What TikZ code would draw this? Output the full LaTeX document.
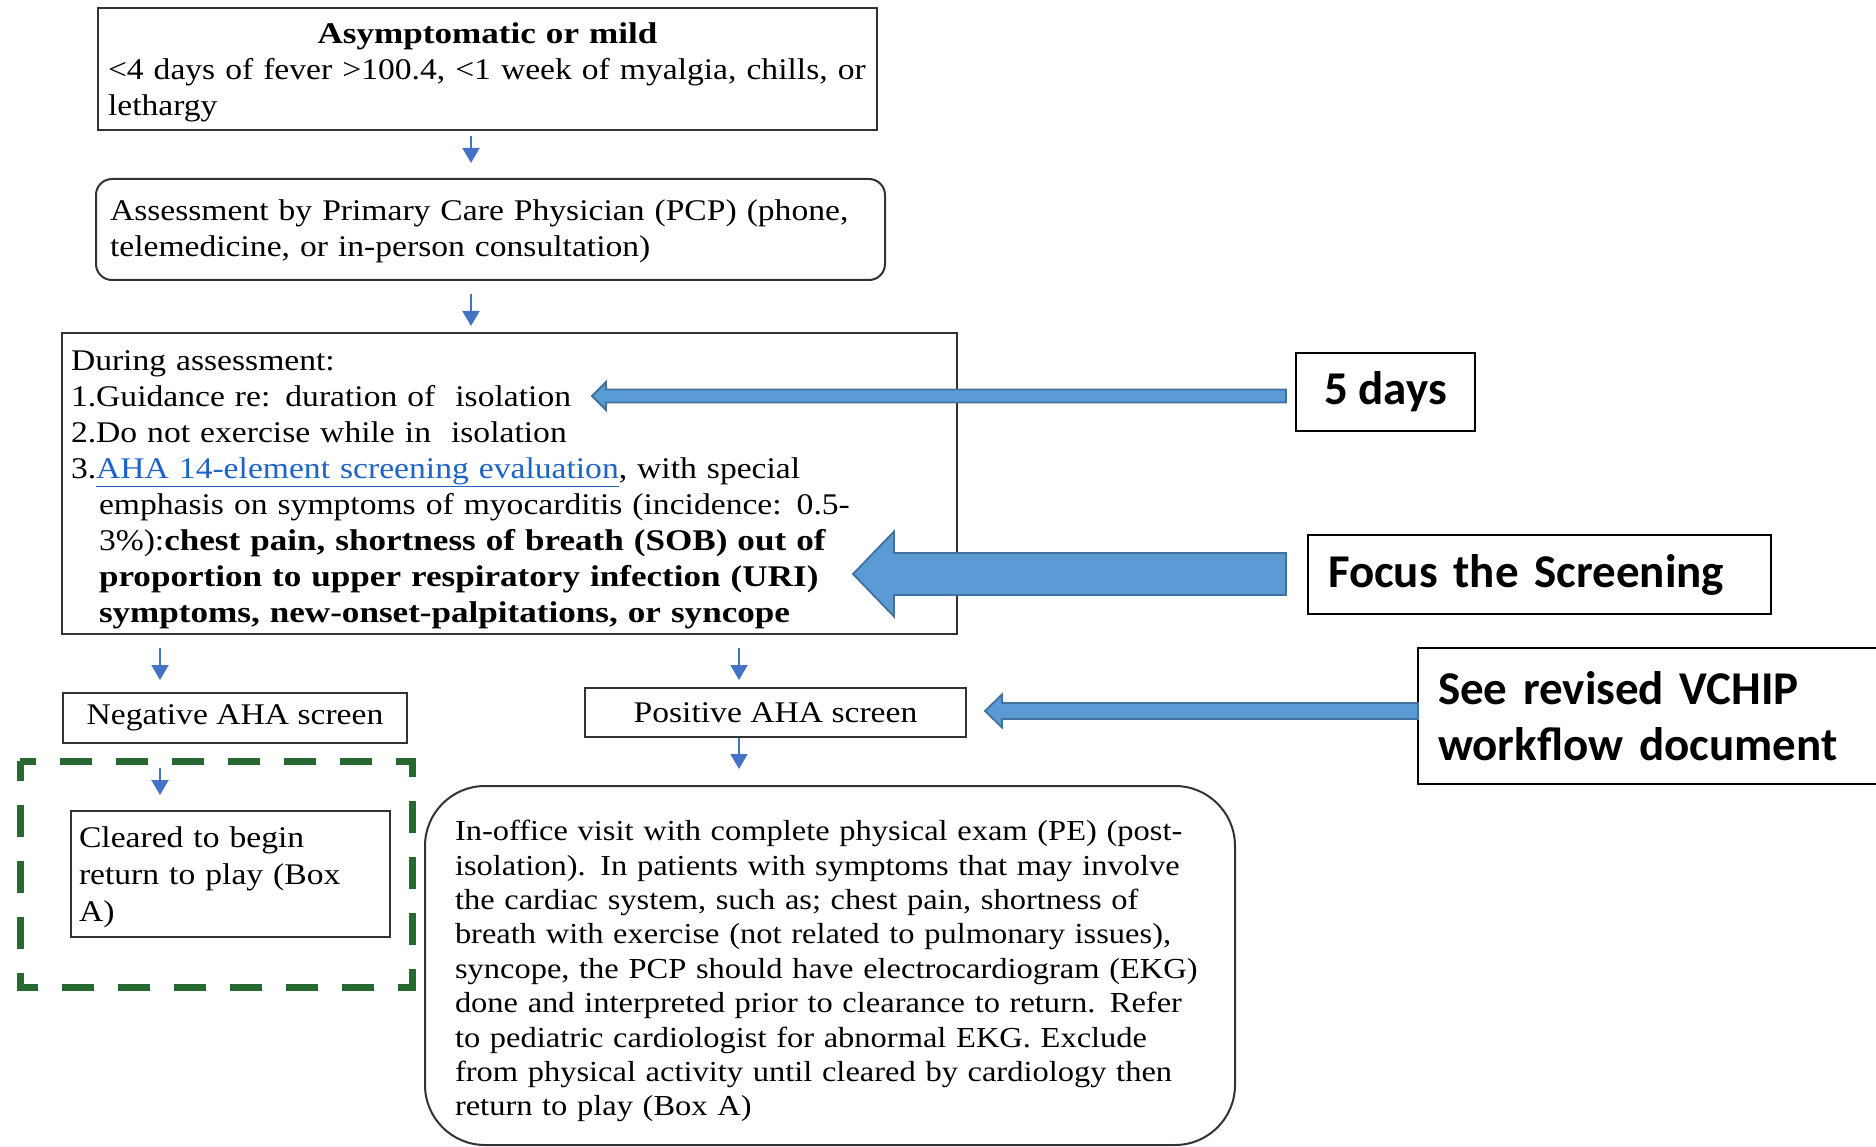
\documentclass[tikz,border=0pt]{standalone}
\usepackage{fontspec}
\setmainfont{Liberation Serif}[
  UprightFeatures={FakeStretch=1.12},
  BoldFeatures={FakeStretch=1.17}]
\newfontfamily\calloutfont{Carlito}
\usetikzlibrary{arrows.meta,calc}

\definecolor{flowblue}{RGB}{68,114,196}
\definecolor{arrowfill}{RGB}{91,155,213}
\definecolor{arrowedge}{RGB}{65,113,156}
\definecolor{linkblue}{RGB}{30,100,200}
\definecolor{clearedgreen}{RGB}{40,105,50}

% invisible strut that sets the height of a box's first line
\newcommand\firstline[1]{\rule{0pt}{#1}}

% block arrow: #1 tail coordinate, #2 tip coordinate,
% #3 half shaft thickness, #4 half head height, #5 head length
\newcommand\blockarrow[5]{%
  \draw[barrow] let \p1=(#1), \p2=(#2) in
    (\x2,\y2) -- (\x2+#5pt,\y2+#4pt) -- (\x2+#5pt,\y2+#3pt) -- (\x1,\y2+#3pt)
    -- (\x1,\y2-#3pt) -- (\x2+#5pt,\y2-#3pt) -- (\x2+#5pt,\y2-#4pt) -- cycle;}

\begin{document}
\begin{tikzpicture}[x=1pt,y=-1pt,
  every node/.style={inner sep=0pt,outer sep=0pt},
  flowbox/.style={draw=black!80,line width=2pt,rectangle,align=left,
    font=\fontsize{30}{36}\selectfont},
  roundbox/.style={flowbox,rounded corners=#1},
  callout/.style={draw=black,line width=1.6pt,rectangle,align=left,
    font=\calloutfont\bfseries\fontsize{47}{56}\selectfont},
  flow/.style={draw=flowblue,line width=2pt,-{Triangle[length=15pt,width=17pt]}},
  barrow/.style={fill=arrowfill,draw=arrowedge,line width=1.8pt,line join=miter},
  dashframe/.style={draw=clearedgreen,line width=7pt,dash pattern=on 32pt off 24pt}
]
\useasboundingbox (0,0) rectangle (1876,1147);
\fill[white] (0,0) rectangle (1876,1147);
\clip (0,0) rectangle (1876,1147);

% ---- main flow ----
\node[flowbox,minimum width=779,minimum height=122,text width=759] (mild) at (487.5,69)
  {\makebox[\linewidth]{\firstline{27.5pt}\bfseries Asymptomatic or mild}\\
   \mbox{<4 days of fever >100.4, <1 week of myalgia, chills, or}\\
   \mbox{lethargy}};

\node[roundbox=16pt,minimum width=789,minimum height=101,text width=761] (pcp) at (490.5,229.5)
  {\mbox{\firstline{25pt}Assessment by Primary Care Physician (PCP) (phone,}\\
   \mbox{telemedicine, or in-person consultation)}};

\node[flowbox,minimum width=895,minimum height=301,text width=877] (during) at (509.5,483.5)
  {\mbox{\firstline{32pt}During assessment:}\\
   \mbox{1.Guidance re: duration of\ \ isolation}\\
   \mbox{2.Do not exercise while in\ \ isolation}\\
   \mbox{3.\textcolor{linkblue}{\underline{AHA 14-element screening evaluation}}, with special}\\
   \mbox{\hspace*{28pt}emphasis on symptoms of myocarditis (incidence: 0.5-}\\
   \mbox{\hspace*{28pt}3\%):\textbf{chest pain, shortness of breath (SOB) out of}}\\
   \mbox{\hspace*{28pt}\textbf{proportion to upper respiratory infection (URI)}}\\
   \mbox{\hspace*{28pt}\textbf{symptoms, new-onset-palpitations, or syncope}}};

\node[flowbox,align=center,minimum width=344,minimum height=50] (neg) at (235,718)
  {Negative AHA screen};
\node[flowbox,align=center,minimum width=381,minimum height=49] (pos) at (775.5,712.5)
  {Positive AHA screen};

\node[flowbox,font=\fontsize{30}{37}\selectfont,minimum width=319,minimum height=126,text width=303] (cleared) at (230.5,874)
  {\mbox{\firstline{27.5pt}Cleared to begin}\\
   \mbox{return to play (Box}\\
   \mbox{A)}};

\node[roundbox=60pt,font=\fontsize{29}{34.4}\selectfont,minimum width=810,minimum height=359,text width=750] (visit) at (830,965.5)
  {\mbox{\firstline{32pt}In-office visit with complete physical exam (PE) (post-}\\
   \mbox{isolation). In patients with symptoms that may involve}\\
   \mbox{the cardiac system, such as; chest pain, shortness of}\\
   \mbox{breath with exercise (not related to pulmonary issues),}\\
   \mbox{syncope, the PCP should have electrocardiogram (EKG)}\\
   \mbox{done and interpreted prior to clearance to return. Refer}\\
   \mbox{to pediatric cardiologist for abnormal EKG. Exclude}\\
   \mbox{from physical activity until cleared by cardiology then}\\
   \mbox{return to play (Box A)}};

% dashed frame around the cleared branch
\draw[dashframe,dash phase=12pt] (20,761) rectangle (412,987);

% ---- flow arrows ----
\draw[flow,shorten <=6pt,shorten >=16pt] ([xshift=-16.5pt]mild.south) -- ([xshift=-19.5pt]pcp.north);
\draw[flow,shorten <=14pt,shorten >=7pt] ([xshift=-19.5pt]pcp.south) -- ([xshift=-38.5pt]during.north);
\draw[flow,shorten <=14pt,shorten >=13pt] (during.south -| neg.north) ++(-75pt,0) coordinate (dl) -- (dl |- neg.north);
\draw[flow,shorten <=14pt,shorten >=8pt] (during.south -| pos.north) ++(-36.5pt,0) coordinate (dr) -- (dr |- pos.north);
\draw[flow,shorten <=1pt,shorten >=17pt] ([xshift=-36.5pt]pos.south) -- ([xshift=-36.5pt]pos.south |- visit.north);
\draw[flow,shorten <=25pt,shorten >=16pt] ([xshift=-75pt]neg.south) -- ([xshift=-75pt]neg.south |- cleared.north);

% ---- callouts ----
\node[callout,align=center,minimum width=179,minimum height=78] (fivedays) at (1385.5,392) {5 days};
\node[callout,minimum width=463,minimum height=79,text width=423] (focus) at (1539.5,574.5)
  {\mbox{Focus the Screening}};
\node[callout,minimum width=472,minimum height=136,text width=432] (vchip) at (1654,716)
  {\mbox{See revised VCHIP}\\\mbox{workflow document}};

\coordinate (fdTail) at ([xshift=-10pt]fivedays.west);
\coordinate (fdTip) at (592,396);
\coordinate (fcTail) at ([xshift=-22pt]focus.west);
\coordinate (fcTip) at (853,574);
\coordinate (vcTail) at (vchip.west);
\coordinate (vcTip) at (985,711);

\blockarrow{fdTail}{fdTip}{6.5}{14}{14}
\blockarrow{fcTail}{fcTip}{21}{42.5}{41}
\blockarrow{vcTail}{vcTip}{8}{16.5}{17}
\end{tikzpicture}
\end{document}
